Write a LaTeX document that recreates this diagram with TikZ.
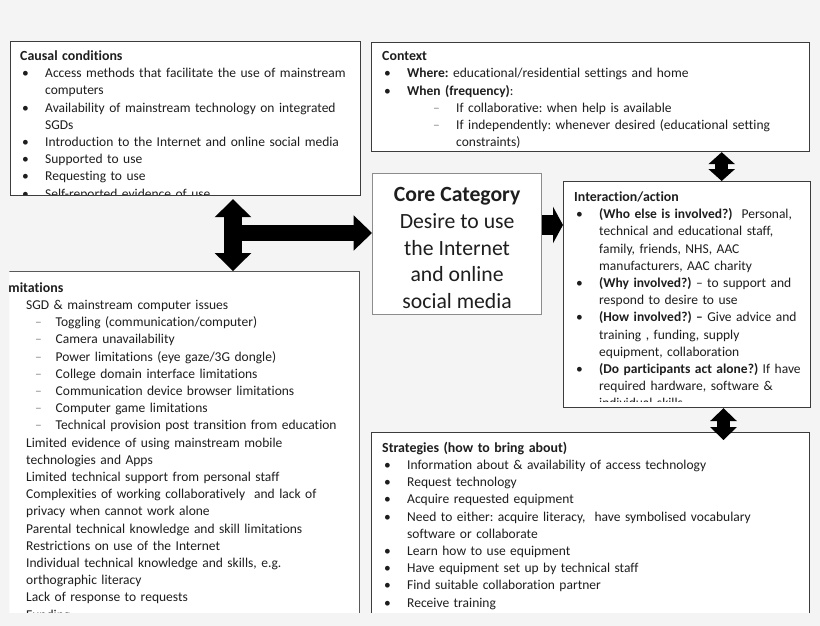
\documentclass[tikz,border=0pt]{standalone}
\usepackage{fontspec}
\setmainfont{Carlito}[Ligatures={TeX,NoCommon}]
\usepackage{enumitem}
\usetikzlibrary{arrows.meta}
\definecolor{PageGrey}{HTML}{F4F4F4}
\definecolor{InkGrey}{HTML}{1E1E1E}
\definecolor{FrameGrey}{HTML}{3C3C3C}
\definecolor{DashGrey}{HTML}{8C8C8C}

\setlist[itemize,1]{nosep, leftmargin=25pt, labelsep=0pt, labelwidth=23pt, itemindent=0pt, align=left, label=\textbullet}
\setlist[itemize,2]{nosep, leftmargin=49pt, labelsep=0pt, labelwidth=23pt, itemindent=0pt, align=left, label=\textcolor{DashGrey}{–}}
\newcommand\boxtitle[1]{{\fontsize{13.9}{17.2}\selectfont\strut\textbf{#1}}}

\begin{document}
\begin{tikzpicture}[x=1pt, y=-1pt,
    frame/.style={draw=FrameGrey, line width=1.2pt, fill=white, inner sep=0pt, anchor=north west},
    boxtext/.style={anchor=north west, inner sep=0pt, text width=#1, align=left, text=InkGrey,
        font=\fontsize{13.5}{17.2}\selectfont\frenchspacing},
    blk/.style n args={3}{draw=black, line width=#1,
        -{Triangle[width=#2, length=#3, line width=0pt]}},
    dblk/.style n args={3}{draw=black, line width=#1,
        {Triangle[width=#2, length=#3, line width=0pt]}-{Triangle[width=#2, length=#3, line width=0pt]}}]

    \useasboundingbox (0,0) rectangle (820,626);
    \fill[PageGrey] (0,0) rectangle (820,626);

    \begin{scope}
        \clip (9.4,0) rectangle (820,612.5);

        % Boxes
        \node[frame, minimum width=350pt, minimum height=154pt] (cause) at (10,41) {};
        \node[frame, minimum width=438pt, minimum height=109pt] (context) at (371,42) {};
        \node[frame, draw=black!45, minimum width=169pt, minimum height=141pt] (core) at (372,173) {};
        \node[frame, minimum width=247pt, minimum height=226pt] (inter) at (563,181) {};
        \node[frame, draw=black!65, minimum width=380pt, minimum height=380pt] (limit) at (-21,271) {};
        \node[frame, minimum width=438pt, minimum height=220pt] (strat) at (371,432) {};

        % Causal conditions
        \begin{scope}
            \clip (cause.north west) rectangle ([yshift=1.5pt]cause.south east);
            \node[boxtext=335pt] (causetxt) at ([xshift=10pt,yshift=-7.3pt]cause.north west) {\boxtitle{Causal conditions}
                \begin{itemize}
                    \item Access methods that facilitate the use of mainstream\\computers
                    \item Availability of mainstream technology on  integrated\\SGDs
                    \item Introduction to the  Internet and online social media
                    \item Supported to use
                    \item Requesting to use
                    \item Self-reported evidence of use
                \end{itemize}};
        \end{scope}

        % Context
        \node[boxtext=425pt] (contexttxt) at ([xshift=11pt,yshift=-6.5pt]context.north west) {\boxtitle{Context}
            \begin{itemize}
                \item \textbf{Where:} educational/residential settings and home
                \item \textbf{When (frequency)}:
                \begin{itemize}
                    \item If collaborative: when help is available
                    \item If independently: whenever desired  (educational setting\\constraints)
                \end{itemize}
            \end{itemize}};

        % Core category
        \node[align=center, text=InkGrey, font=\fontsize{21.7}{26.7}\selectfont] (coretxt)
            at ([yshift=-4pt]core.center) {\textbf{Core Category}\\Desire to use\\the Internet\\and online\\social media};

        % Interaction/action
        \begin{scope}
            \clip (inter.north west) rectangle ([yshift=6.5pt]inter.south east);
            \node[boxtext=232pt] (intertxt) at ([xshift=11pt,yshift=-8.3pt]inter.north west) {\boxtitle{Interaction/action}
                \begin{itemize}
                    \item \textbf{(Who else is involved?)}\ \ Personal,\\technical and educational staff,\\family, friends, NHS, AAC\\manufacturers, AAC charity
                    \item \textbf{(Why involved?)} – to support and\\respond to desire to use
                    \item \textbf{(How involved?) –} Give advice and\\training , funding, supply\\equipment, collaboration
                    \item \textbf{(Do participants act alone?)} If have\\required hardware, software \&\\individual skills
                \end{itemize}};
        \end{scope}

        % Limitations
        \node[boxtext=354pt] (limittxt) at (-1,280) {\boxtitle{Limitations}
            \begin{itemize}[leftmargin=27pt, labelwidth=27pt, label={}]
                \item SGD \& mainstream computer issues
                \begin{itemize}[leftmargin=29.5pt, labelwidth=20.5pt]
                    \item Toggling (communication/computer)
                    \item Camera unavailability
                    \item Power limitations (eye gaze/3G dongle)
                    \item College domain interface limitations
                    \item Communication device browser limitations
                    \item Computer game limitations
                    \item Technical provision post transition from education
                \end{itemize}
                \item Limited evidence of using mainstream mobile\\technologies and Apps
                \item Limited technical support from personal staff
                \item Complexities of working collaboratively\ \ and lack of\\privacy when cannot work alone
                \item Parental technical knowledge and skill limitations
                \item Restrictions on use of the Internet
                \item Individual technical knowledge and skills, e.g.\\orthographic literacy
                \item Lack of response to requests
                \item Funding
            \end{itemize}};

        % Strategies
        \node[boxtext=420pt] (strattxt) at ([xshift=11pt,yshift=-8pt]strat.north west) {\boxtitle{Strategies (how to bring about)}
            \begin{itemize}
                \item Information about \& availability of access technology
                \item Request technology
                \item Acquire requested equipment
                \item Need to either: acquire literacy,\ \ have symbolised vocabulary\\software or collaborate
                \item Learn how to use equipment
                \item Have equipment set up by technical staff
                \item Find suitable collaboration partner
                \item Receive training
            \end{itemize}};

        % Block arrows
        \coordinate (hub) at (233,233);
        \draw[dblk={17.7pt}{36.7pt}{18pt}, shorten <=3pt] (hub |- cause.south) -- (hub |- limit.north);
        \draw[blk={15.7pt}{35.4pt}{18.4pt}] (hub) -- (hub -| core.west);
        \coordinate (corearr) at (core.east |- 0,225);
        \draw[blk={20pt}{36.6pt}{10pt}] (corearr) -- (corearr -| inter.west);
        \coordinate (ctxarr) at (721.7,0);
        \draw[dblk={13pt}{26.7pt}{12pt}] (ctxarr |- context.south) -- (ctxarr |- inter.north);
        \coordinate (stratarr) at (723.5,0);
        \draw[dblk={13pt}{27pt}{13pt}] (stratarr |- inter.south) -- ([yshift=-8pt]stratarr |- strat.north);
    \end{scope}
\end{tikzpicture}
\end{document}
